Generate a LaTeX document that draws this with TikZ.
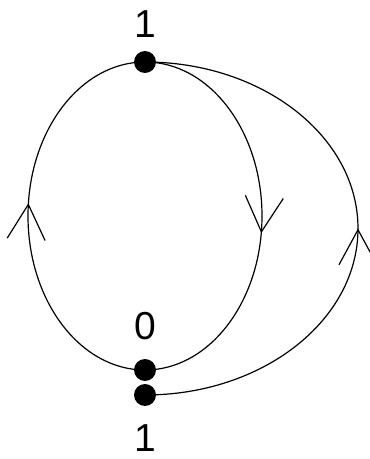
\documentclass[tikz,border=0pt]{standalone}
\usepackage{fontspec}
\setmainfont{Liberation Sans}
\usetikzlibrary{arrows.meta,decorations.markings}
\begin{document}
\begin{tikzpicture}[x=1pt,y=1pt,
  dot/.style={circle,fill=black,inner sep=0pt,minimum size=22pt},
  lbl/.style={font=\fontsize{39}{39}\selectfont,inner sep=0pt},
  edge/.style={line width=1.2pt},
  midarrow/.style={postaction={decorate},decoration={markings,mark=at position #1 with {\arrow{Straight Barb[length=35pt,width=38pt,line width=1.2pt]}}}}
]
\useasboundingbox (0,0) rectangle (370,459);
\draw[edge,midarrow=0.53] (145,89) arc[start angle=-90,end angle=-270,x radius=117,y radius=154];
\draw[edge,midarrow=0.54] (145,397) arc[start angle=90,end angle=-90,x radius=117,y radius=154];
\draw[edge,midarrow=0.5] (145,64) arc[start angle=-90,end angle=90,x radius=213,y radius=166.5];
\node[dot] (t) at (145,397) {};
\node[dot] (z) at (145,89) {};
\node[dot] (b) at (145,64) {};
\node[lbl] (lt) at (145,434.5) {1};
\node[lbl] (lz) at (145,132.5) {0};
\node[lbl] (lb) at (145,21) {1};
\end{tikzpicture}
\end{document}
